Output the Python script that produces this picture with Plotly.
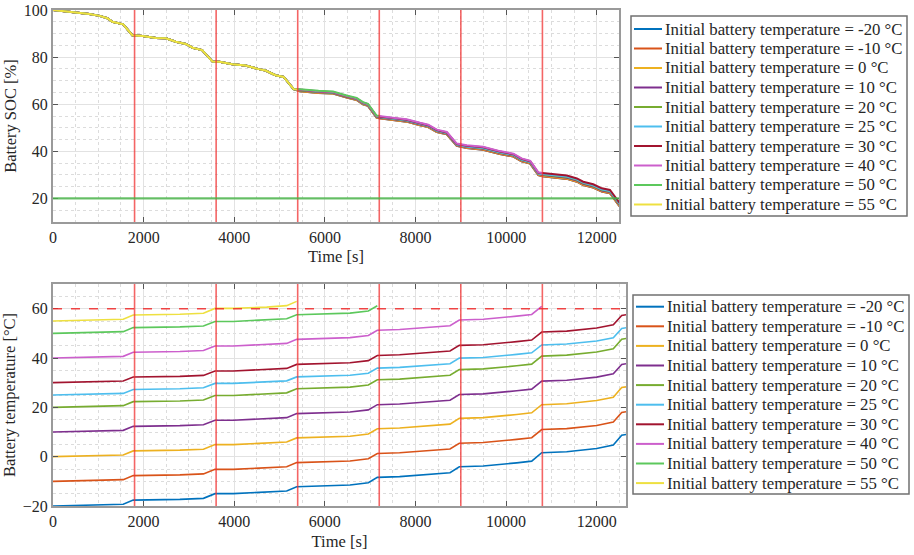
import plotly.graph_objects as go
from plotly.subplots import make_subplots

# ---------------- data ----------------
init_temps = [-20, -10, 0, 10, 20, 25, 30, 40, 50, 55]
labels = [f"Initial battery temperature = {t} °C" for t in init_temps]
colors = ["#0072BD", "#D95319", "#EDB120", "#7E2F8E", "#77AC30",
          "#4DBEEE", "#A2142F", "#CC5FCC", "#5CC85C", "#EEE040"]
# time at which each simulation stops (battery reached 60 °C)
end_times = [12646, 12646, 12646, 12646, 12646, 12646, 12646, 10800, 7200, 5400]

# shared SOC trace
t_soc = [0, 300, 600, 800, 1030, 1200, 1310, 1550, 1750, 1980, 2270, 2490, 2710,
         2930, 3080, 3290, 3520, 3670, 3960, 4250, 4540, 4690, 4910, 5090, 5310,
         5400, 5450, 5860, 6180, 6480, 6700, 6840, 6950, 7140, 7200, 7500, 7800,
         8100, 8280, 8470, 8690, 8910, 9130, 9490, 9860, 10160, 10340, 10530,
         10710, 10800, 11040, 11340, 11560, 11700, 11920, 12110, 12290, 12400,
         12490, 12646]
soc_base = [100, 99.3, 98.9, 98.3, 97.5, 96.5, 95.0, 93.9, 89.3, 89.0, 88.1, 88.0,
            86.5, 85.6, 84.0, 83.0, 78.1, 78.0, 77.0, 76.4, 74.9, 74.3, 72.3, 71.6,
            66.4, 66.2, 66.0, 65.3, 65.0, 63.3, 62.3, 60.5, 59.8, 54.8, 54.6, 53.9,
            53.2, 51.7, 50.9, 48.8, 47.8, 42.9, 42.1, 41.4, 39.6, 38.5, 36.5, 35.5,
            30.6, 30.3, 29.7, 29.2, 28.0, 26.6, 25.5, 23.8, 23.1, 20.3, 17.9, 15.0]
# per-series SOC deviation for each 1800 s driving period
soc_offsets = [
    [0, 0, 0, -0.5, -0.6, -0.7, -0.9],
    [0, 0, 0, -0.5, -0.6, -0.7, -0.9],
    [0, 0, 0, -0.4, -0.5, -0.5, -0.7],
    [0, 0, 0, -0.2, -0.3, -0.3, -0.4],
    [0, 0, 0, -0.1, -0.1, -0.1, -0.1],
    [0, 0, 0, 0.0, 0.0, 0.0, 0.1],
    [0, 0, 0, 0.1, 0.2, 0.3, 0.5],
    [0, 0, 0, 0.2, 0.4, 0.5, 0.5],
    [0, 0, 0, 0.4, 0.5, 0.5, 0.5],
    [0, 0, 0, 0.0, 0.0, 0.0, 0.0],
]

# shared battery temperature rise (read from the -20 °C trace)
t_temp = [0, 1000, 1550, 1770, 2070, 2800, 3320, 3575, 3980, 4716, 5157, 5378,
          5893, 6555, 6959, 7158, 7650, 8393, 8762, 8967, 9497, 10234, 10565,
          10786, 11337, 11999, 12366, 12551, 12646]
temp_rise = [0, 0.3, 0.7, 2.4, 2.4, 2.7, 3.1, 5.0, 5.0, 5.5, 6.1, 7.8, 8.1, 8.5,
             9.4, 11.6, 11.9, 13.0, 13.5, 15.9, 16.2, 17.5, 18.2, 21.6, 22.0,
             23.3, 24.7, 28.7, 29.0]
# per-series scaling of the rise (read from the end values)
rise_gain = [1.0, 0.972, 0.976, 0.955, 0.962, 0.94, 0.95, 0.97, 0.965, 1.02]

period_ends = [1800, 3600, 5400, 7200, 9000, 10800]
soc_limit = 20
temp_limit = 60

# ---------------- figure ----------------
FONT = "Liberation Serif"
TXT = "#262626"
W, H = 914, 555
fig = make_subplots(rows=2, cols=1)

for i in range(len(init_temps)):
    ts, ss = [], []
    for t, s in zip(t_soc, soc_base):
        if t <= end_times[i] + 1:
            seg = min(int(t // 1800), 6)
            ts.append(t)
            ss.append(s + soc_offsets[i][seg])
    fig.add_trace(go.Scatter(x=ts, y=ss, mode="lines", name=labels[i],
                             line=dict(color=colors[i], width=2),
                             showlegend=False), row=1, col=1)

for i in range(len(init_temps)):
    tt, vv = [], []
    for t, r in zip(t_temp, temp_rise):
        if t <= end_times[i] + 1:
            tt.append(t)
            vv.append(init_temps[i] + r * rise_gain[i])
    fig.add_trace(go.Scatter(x=tt, y=vv, mode="lines", name=labels[i],
                             line=dict(color=colors[i], width=1.6),
                             showlegend=False), row=2, col=1)

for pe in period_ends:
    fig.add_vline(x=pe, line=dict(color="rgba(240,50,50,0.75)", width=1.6), row=1, col=1)
    fig.add_vline(x=pe, line=dict(color="rgba(240,50,50,0.75)", width=1.6), row=2, col=1)
fig.add_hline(y=soc_limit, line=dict(color="rgba(70,180,70,0.8)", width=2.2), row=1, col=1)
fig.add_hline(y=temp_limit, line=dict(color="rgba(240,40,40,0.85)", width=1.5, dash="dash"),
              row=2, col=1)

axis_common = dict(
    showline=True, linecolor="#9a9a9a", linewidth=2, mirror="allticks",
    ticks="inside", ticklen=5, tickcolor="#555555", tickwidth=1,
    showgrid=True, gridcolor="#e2e2e2", gridwidth=1,
    zeroline=False, tickfont=dict(family=FONT, size=16, color=TXT),
    automargin=False,
)
minor_x = dict(dtick=500, showgrid=True, gridcolor="#dcdcdc", griddash="dot", ticks="")
minor_y = dict(dtick=5, showgrid=True, gridcolor="#dcdcdc", griddash="dot", ticks="")

fig.update_xaxes(**axis_common, dtick=2000, tick0=0, tickformat="d", minor=minor_x)
fig.update_yaxes(**axis_common, dtick=20, tickformat="d", minor=minor_y)

title_font = dict(family=FONT, size=16.5, color=TXT)
fig.update_layout(
    xaxis=dict(domain=[53/W, 619/W], range=[0, 12490],
               title=dict(text="Time [s]", font=title_font, standoff=5)),
    yaxis=dict(domain=[1-222/H, 1-10/H], range=[10, 100],
               title=dict(text="Battery SOC [%]", font=title_font, standoff=3)),
    xaxis2=dict(domain=[53/W, 626/W], range=[0, 12646],
                title=dict(text="Time [s]", font=title_font, standoff=6)),
    yaxis2=dict(domain=[1-506/H, 1-284/H], range=[-20, 70],
                title=dict(text="Battery temperature [°C]", font=title_font, standoff=3)),
    width=W, height=H,
    margin=dict(l=0, r=0, t=0, b=0),
    plot_bgcolor="white", paper_bgcolor="white",
    showlegend=False,
)

# ---------------- legends (MATLAB-style boxes) ----------------
def add_legend(box, first_y, step, line_x0, line_x1, text_x):
    x0, y0, x1, y1 = box
    fig.add_shape(type="rect", xref="paper", yref="paper",
                  x0=x0/W, x1=x1/W, y0=1-y1/H, y1=1-y0/H,
                  line=dict(color="#707070", width=1.5), fillcolor="white", layer="above")
    for i, lab in enumerate(labels):
        yy = first_y + i*step
        fig.add_shape(type="line", xref="paper", yref="paper",
                      x0=line_x0/W, x1=line_x1/W, y0=1-yy/H, y1=1-yy/H,
                      line=dict(color=colors[i], width=2), layer="above")
        fig.add_annotation(xref="paper", yref="paper", x=text_x/W, y=1-yy/H,
                           text=lab, showarrow=False, xanchor="left", yanchor="middle",
                           font=dict(family=FONT, size=16.8, color=TXT), borderpad=0)

add_legend((631, 16, 907, 216), 29, 19.5, 634, 662, 664)
add_legend((633, 295, 909, 494), 306.7, 19.6, 636, 664, 666)

fig.write_html("out.html")
